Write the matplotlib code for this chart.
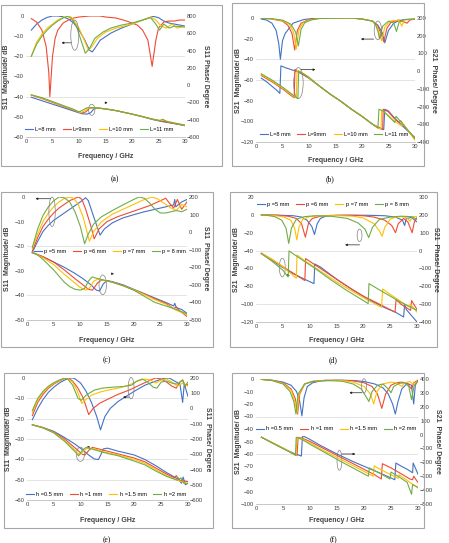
import numpy as np
import matplotlib
matplotlib.use('Agg')
import matplotlib.pyplot as plt
from matplotlib.patches import Ellipse, Rectangle

plt.rcParams['font.family'] = ['Liberation Sans', 'DejaVu Sans']

# ---------------- data ----------------
# (a) S11 vs L
a_names = ['L=8 mm', 'L=9mm', 'L=10 mm', 'L=11 mm']
a_mag_L8_x = [1, 2, 3, 4, 5, 6, 7, 8, 9, 10, 11, 12, 12.5, 13, 14, 16, 18, 20, 22, 24, 25, 26, 27, 28, 29, 30]
a_mag_L8_y = [-7, -4, -2, -0.7, 0, 0, -0.4, -1.5, -3.5, -7, -11.5, -17, -17.8, -16, -12, -8.5, -6, -4, -2, -0.2, -0.8, -2.5, -3.5, -4, -4.5, -5]
a_mag_L9_x = [1, 2, 3, 3.8, 4.3, 4.5, 5, 5.5, 6, 7, 8, 9, 10, 12, 14, 15, 17, 19, 21, 22, 23, 23.8, 24.5, 25, 26, 27, 28, 29, 30]
a_mag_L9_y = [-1.3, -3, -7, -15, -28, -40, -20, -11, -7, -3.5, -2, -1, -0.5, 0, 0, -0.5, -1, -2.5, -4.5, -7, -12, -25, -12, -6, -3, -2.5, -2.5, -2, -2]
a_mag_L10_x = [1, 2, 3, 4, 5, 6, 7, 8, 8.5, 9, 10, 11, 11.8, 12.5, 13.5, 15, 17, 20, 22, 23.5, 24.5, 25.5, 26.5, 27.5, 28.5, 30]
a_mag_L10_y = [-20, -13, -9, -6, -4, -2, -0.7, 0, -0.5, -2, -6, -12, -17, -15, -11, -8, -6, -4, -2, -0.5, -2, -5, -6, -4, -6, -5]
a_mag_L11_x = [1, 2, 3, 4, 5, 6, 7, 7.8, 8.5, 9.5, 10.5, 11.2, 12, 13, 14.5, 16, 18, 20, 22, 23.5, 24.5, 25.2, 26, 27, 28, 30]
a_mag_L11_y = [-20, -14, -10, -7, -4.5, -2.5, -1, -0.2, -1, -5, -13, -18.5, -16, -11, -8, -6, -4.5, -3.5, -2, -0.8, -4, -7, -4, -6, -5, -5.5]
a_ph_L8_x = [1, 3, 5, 7, 9, 10.5, 11.5, 12.2, 12.8, 13.5, 15, 17, 20, 22, 24, 26, 28, 30]
a_ph_L8_y = [-140, -180, -220, -260, -300, -330, -335, -320, -275, -265, -275, -295, -335, -365, -400, -425, -445, -470]
a_ph_L9_x = [1, 3, 5, 7, 9, 10.5, 11.3, 12, 13, 15, 17, 20, 22, 24, 26, 28, 30]
a_ph_L9_y = [-115, -155, -200, -245, -290, -320, -310, -265, -260, -275, -295, -335, -365, -395, -420, -445, -465]
a_ph_L10_x = [1, 3, 5, 7, 9, 10.3, 11, 11.8, 13, 15, 17, 20, 22, 24, 25.5, 26, 27, 30]
a_ph_L10_y = [-113, -150, -195, -240, -285, -320, -300, -265, -262, -275, -295, -335, -365, -395, -410, -405, -425, -465]
a_ph_L11_x = [1, 3, 5, 7, 9, 10, 10.8, 11.5, 13, 15, 17, 20, 22, 24, 25.2, 25.8, 26.5, 30]
a_ph_L11_y = [-113, -145, -190, -235, -280, -310, -285, -262, -262, -275, -295, -335, -365, -395, -410, -395, -420, -462]

# (b) S21 vs L
b_names = ['L=8 mm', 'L=9mm', 'L=10 mm', 'L=11 mm']
b_mag_L8_x = [1, 2, 3, 3.8, 4.3, 4.6, 5, 5.5, 7, 9, 11, 12, 18, 20, 22, 23, 23.8, 24.3, 25, 26, 27, 28, 30]
b_mag_L8_y = [-1, -2, -5, -12, -25, -40, -22, -15, -5, -1.5, -0.3, 0, 0, -1, -3, -7, -14, -24, -12, -5, -2.5, -1.5, -1]
b_mag_L9_x = [1, 3, 5, 6, 6.8, 7.3, 7.8, 8.5, 10, 12, 18, 20, 22, 23, 23.6, 24.1, 24.7, 25.5, 27, 28.5, 29, 30]
b_mag_L9_y = [-0.2, -1, -3, -7, -15, -31, -12, -5, -1.5, -0.3, 0, -1, -3, -8, -15, -23, -10, -4, -2, -5, -2, -1]
b_mag_L10_x = [1, 3, 5, 6.3, 7.1, 7.6, 8.1, 8.8, 10, 12, 18, 20, 22, 22.8, 23.3, 23.7, 24.3, 25.3, 27, 27.5, 28, 30]
b_mag_L10_y = [-0.2, -0.8, -2.5, -6, -14, -30, -12, -5, -2, -0.4, 0, -1, -3, -8, -15, -22, -9, -3, -2, -8, -2, -1]
b_mag_L11_x = [1, 3, 5, 6.6, 7.5, 8.0, 8.5, 9.2, 10.5, 12, 18, 20, 22, 22.6, 23.0, 23.3, 23.9, 25, 26, 26.5, 27, 28, 30]
b_mag_L11_y = [-0.2, -0.7, -2, -6, -14, -27, -11, -4.5, -1.8, -0.5, 0, -1, -3, -7, -13, -20, -8, -3, -5, -13, -4, -1.5, -1]
b_ph_L8_x = [1, 2, 3, 4, 4.5, 4.7, 5.5, 7, 8, 9, 10, 12, 14, 16, 18, 20, 22, 23.5, 24.1, 24.3, 25, 26, 28, 30]
b_ph_L8_y = [-40, -60, -85, -110, -126, 30, 20, 5, -5, -22, -40, -85, -130, -170, -215, -255, -300, -325, -330, -215, -225, -260, -320, -375]
b_ph_L9_x = [1, 3, 5, 6.5, 7.2, 7.35, 8, 9, 10, 12, 14, 16, 18, 20, 22, 23.5, 23.9, 24.0, 25, 26, 27, 27.3, 28, 30]
b_ph_L9_y = [-25, -60, -100, -135, -150, 10, 0, -20, -40, -85, -130, -170, -215, -255, -300, -322, -330, -215, -230, -265, -290, -280, -310, -385]
b_ph_L10_x = [1, 3, 5, 7, 7.6, 7.75, 8.5, 9.5, 10, 12, 14, 16, 18, 20, 22, 23.3, 23.6, 23.7, 25, 26, 27.5, 27.6, 30]
b_ph_L10_y = [-20, -55, -95, -140, -152, 5, -5, -25, -38, -85, -130, -170, -215, -255, -300, -325, -325, -220, -250, -280, -310, -290, -390]
b_ph_L11_x = [1, 3, 5, 7, 7.9, 8.05, 9, 10, 12, 14, 16, 18, 20, 22, 23.0, 23.2, 24, 25, 26.2, 26.4, 27, 30]
b_ph_L11_y = [-15, -50, -90, -135, -155, 0, -15, -35, -85, -130, -170, -215, -255, -300, -322, -215, -225, -255, -290, -255, -275, -380]

# (c) S11 vs p
c_names = ['p =5 mm', 'p =6 mm', 'p =7 mm', 'p = 8 mm']
c_mag_p5_x = [1, 2, 3, 4, 5, 6, 7, 8, 9, 10, 11, 11.5, 12.5, 13.7, 14.5, 16, 18, 20, 22, 24, 26, 27.5, 27.7, 27.9, 29, 30]
c_mag_p5_y = [-22.5, -18, -14, -11.5, -9.5, -8, -6.5, -5, -3.5, -2, -0.3, -1.5, -8, -15.5, -13, -10.5, -8.5, -7.2, -6, -5, -4, -3.2, -1, -4, -2, -1]
c_mag_p6_x = [1, 2, 3, 4, 5, 6, 7, 8, 9, 9.7, 10.3, 11, 12, 12.6, 13.5, 15, 17, 19, 21, 23, 25, 26, 26.7, 27.5, 28.2, 29, 30]
c_mag_p6_y = [-22, -16.5, -12, -9, -6.5, -4.5, -3, -1.5, -0.5, 0, -1, -5, -12, -17, -13, -10, -8, -6.5, -5, -3.5, -1.5, -0.5, -2.5, -4.5, -1, -5, -2]
c_mag_p7_x = [1, 2, 3, 4, 5, 6, 7, 8, 8.7, 9.5, 10.5, 11.7, 12.5, 14, 16, 18, 20, 22, 23.5, 24.5, 26, 27, 28, 29, 30]
c_mag_p7_y = [-21, -15, -10, -6.5, -4, -2, -0.6, 0, -0.5, -2.5, -8, -18, -14, -10, -7, -5, -3, -1, 0, -0.8, -3, -4.5, -5.5, -3, -4]
c_mag_p8_x = [1, 2, 3, 4, 5, 6, 7, 8, 9, 10, 10.8, 11.5, 12.5, 14, 16, 18, 20, 21, 22, 23, 24, 25, 26, 27, 28, 29, 30]
c_mag_p8_y = [-20.5, -13, -7.5, -4, -1.5, 0, -0.3, -2, -6, -12, -19, -15, -11, -8, -5.5, -3.2, -1, 0, -0.5, -2.5, -5, -6.5, -6.5, -6, -5.5, -6, -5]
c_ph_p5_x = [1, 3, 5, 7, 9, 10.5, 12, 13, 13.6, 14.3, 15, 16, 18, 20, 22, 24, 26, 27.5, 27.7, 28, 29, 30]
c_ph_p5_y = [-118, -140, -170, -200, -235, -265, -300, -330, -335, -295, -275, -282, -300, -325, -350, -375, -400, -420, -405, -430, -440, -462]
c_ph_p6_x = [1, 3, 5, 7, 9, 10.5, 11.5, 12.3, 13.2, 14, 16, 18, 20, 22, 24, 26, 27.5, 28, 28.5, 30]
c_ph_p6_y = [-115, -140, -170, -215, -265, -300, -325, -330, -290, -272, -283, -303, -328, -352, -380, -405, -435, -425, -445, -480]
c_ph_p7_x = [1, 3, 5, 7, 9, 10, 11, 11.7, 12.5, 13.2, 14, 16, 18, 20, 22, 24, 26, 28, 30]
c_ph_p7_y = [-115, -145, -185, -240, -290, -315, -330, -320, -280, -268, -272, -285, -305, -328, -355, -385, -410, -445, -470]
c_ph_p8_x = [1, 2, 3, 4, 5, 6, 7, 8, 9, 10, 10.8, 11.5, 12.2, 13, 14, 16, 18, 20, 22, 24, 26, 28, 30]
c_ph_p8_y = [-115, -130, -155, -185, -215, -250, -285, -310, -325, -330, -320, -280, -255, -262, -270, -285, -305, -330, -365, -400, -420, -440, -465]

# (d) S21 vs p
d_names = ['p =5 mm', 'p =6 mm', 'p =7 mm', 'p = 8 mm']
d_mag_p5_x = [1, 4, 7, 8.5, 9.5, 10.4, 10.9, 11.4, 12, 13, 15, 18, 21, 24, 26, 27.3, 27.7, 28, 29, 30]
d_mag_p5_y = [0, -0.3, -1, -2.5, -6, -13, -22, -10, -4, -1.5, -0.5, -0.3, -0.5, -1, -2.5, -6, -12, -4, -3, -8]
d_mag_p6_x = [1, 4, 6, 7.5, 8.5, 9.2, 9.8, 10.5, 12, 14, 17, 20, 22, 24, 25.3, 26, 26.5, 27.5, 28.3, 29.1, 29.5, 30]
d_mag_p6_y = [0, -0.5, -1.5, -4, -10, -25, -9, -4, -1.5, -0.6, -0.5, -1, -2.5, -6, -12, -20, -10, -4, -8, -20, -8, -3]
d_mag_p7_x = [1, 3, 5, 6.5, 7.2, 7.6, 8, 8.7, 10, 12, 15, 18, 20, 22, 23, 23.5, 24, 25, 26, 27, 28, 28.7, 29.2, 30]
d_mag_p7_y = [0, -0.5, -2, -6, -15, -28, -14, -5, -2, -1, -0.8, -1.5, -3.5, -10, -18, -24, -14, -5, -2.5, -2, -3, -7, -2, -2]
d_mag_p8_x = [1, 2, 3.5, 4.8, 5.6, 6.1, 6.6, 7.5, 9, 11, 14, 17, 19, 20.3, 21, 21.7, 23, 25, 27, 29, 30]
d_mag_p8_y = [0, -0.5, -2, -6, -15, -32, -15, -5, -2, -1, -1.5, -4, -9, -16, -25.5, -14, -5, -2.5, -1.5, -2, -5]
d_ph_p5_x = [1, 3, 5, 7, 9, 10.8, 10.95, 12, 15, 18, 21, 24, 26, 27.5, 27.7, 28, 30]
d_ph_p5_y = [-17, -55, -95, -130, -160, -185, -75, -92, -160, -220, -275, -320, -345, -372, -300, -330, -400]
d_ph_p6_x = [1, 3, 5, 7, 9.1, 9.25, 11, 14, 17, 20, 23, 25.9, 26.1, 27, 28.8, 29, 30]
d_ph_p6_y = [-15, -50, -90, -128, -168, -45, -80, -140, -200, -255, -300, -345, -275, -300, -335, -280, -330]
d_ph_p7_x = [1, 3, 5, 7.5, 7.65, 9, 12, 15, 18, 21, 23.4, 23.6, 25, 27, 28.5, 28.8, 30]
d_ph_p7_y = [-15, -50, -90, -155, -25, -55, -115, -175, -230, -280, -318, -215, -245, -285, -315, -300, -345]
d_ph_p8_x = [1, 3, 5, 6.0, 6.15, 8, 11, 14, 17, 20, 20.9, 21.05, 23, 25, 27, 29, 30]
d_ph_p8_y = [-17, -60, -110, -148, -2, -40, -100, -165, -225, -280, -297, -185, -220, -255, -290, -320, -335]

# (e) S11 vs h
e_names = ['h =0.5 mm', 'h =1 mm', 'h =1.5 mm', 'h =2 mm']
e_mag_h05_x = [1, 2, 3, 4, 5, 6, 7, 8, 8.5, 9, 10, 11, 12, 13, 13.7, 14.5, 15.5, 17, 18.5, 20, 22, 24, 25.5, 26.5, 27.5, 28.5, 29, 29.3, 30]
e_mag_h05_y = [-20.5, -15, -10.5, -7, -4.5, -2.5, -1, 0, 0, -0.5, -2.5, -6.5, -12, -19, -25.5, -19, -15, -11.5, -9, -6.5, -3.5, -1.5, -0.2, 0, -1.5, -3, -12, -3, -9]
e_mag_h1_x = [1, 2, 3, 4, 5, 6, 7, 7.7, 8.5, 9.5, 10.5, 11.5, 12.3, 13.5, 15, 17, 19, 21, 23, 24, 25, 26, 27, 27.8, 28.5, 29, 29.5, 30]
e_mag_h1_y = [-18.5, -12, -8, -5, -3, -1.5, -0.3, 0, -1.5, -5, -10, -18, -15, -12.5, -10.5, -8, -6, -3.5, -1, 0, -0.5, -2, -4, -5, -2, -1, -4, -3]
e_mag_h15_x = [1, 2, 3, 4, 5, 6, 7, 7.5, 8.5, 9.3, 10.2, 11, 12, 13.5, 15, 17, 19, 20.5, 22, 23, 24, 25, 26, 27, 28, 29, 30]
e_mag_h15_y = [-17, -11, -7, -4.5, -2.7, -1.3, -0.2, 0, -2, -6, -12.5, -10.5, -8.5, -7, -6, -5, -3.5, -1.5, -0.5, -1, -2.5, -1, -0.5, -2, -4, -2.5, -4]
e_mag_h2_x = [1, 2, 3, 4, 5, 6, 7, 7.6, 8.5, 9.5, 10.1, 11, 12.5, 14, 16, 18, 19.5, 20.5, 21.5, 22.5, 23.5, 24.2, 25, 26, 27, 28, 29, 29.4, 30]
e_mag_h2_y = [-16, -10, -6.5, -4, -2.3, -1, 0, -0.5, -3.5, -10, -11, -8.5, -6, -5, -4.5, -4.2, -3.5, -1.5, -0.5, -2, -4.5, -5, -2, -1.5, -2.5, -3, -1, -4, -2]
e_ph_h05_x = [1, 3, 5, 7, 9, 10.5, 11.5, 12.5, 13.3, 13.8, 14.2, 15, 17, 20, 22, 24, 26, 28, 28.8, 29.1, 29.5, 30]
e_ph_h05_y = [-107, -125, -150, -190, -235, -275, -305, -330, -335, -300, -265, -260, -280, -305, -335, -375, -420, -460, -490, -450, -500, -490]
e_ph_h1_x = [1, 3, 5, 7, 9, 10.3, 10.8, 11.5, 12.2, 13, 15, 17, 20, 22, 24, 26, 27.5, 27.8, 28.5, 30]
e_ph_h1_y = [-107, -125, -155, -200, -260, -300, -305, -275, -255, -262, -280, -298, -325, -350, -390, -430, -455, -440, -470, -480]
e_ph_h15_x = [1, 3, 5, 7, 9, 9.8, 10.5, 11.3, 12.5, 15, 17, 20, 22, 24, 26, 28, 30]
e_ph_h15_y = [-107, -127, -158, -210, -275, -305, -280, -258, -265, -290, -305, -335, -360, -400, -440, -470, -495]
e_ph_h2_x = [1, 3, 5, 7, 9, 9.6, 10.3, 11, 12.5, 15, 17, 20, 22, 24, 26, 28, 28.7, 29.2, 30]
e_ph_h2_y = [-107, -128, -160, -215, -285, -310, -275, -255, -270, -295, -310, -345, -370, -410, -445, -470, -455, -490, -490]

# (f) S21 vs h
f_names = ['h =0.5 mm', 'h =1 mm', 'h =1.5 mm', 'h =2 mm']
f_mag_h05_x = [1, 3, 5, 6.5, 7.5, 8.1, 8.5, 8.9, 9.5, 10.5, 12, 15, 18, 20, 22, 23.5, 24.5, 25.3, 25.8, 26.3, 27, 28, 28.8, 29.2, 29.5, 30]
f_mag_h05_y = [-0.3, -1, -2.5, -5, -10, -18, -29.5, -15, -6, -3, -1.5, -1, -1.2, -2, -4, -7, -12, -20, -28, -18, -8, -3.5, -5, -20, -5, -1]
f_mag_h1_x = [1, 3, 5, 6.5, 7.3, 7.7, 8.1, 9, 10.5, 13, 16, 18, 20, 21.5, 22.5, 23.3, 24, 25, 26, 27, 28, 28.8, 29.2, 30]
f_mag_h1_y = [-0.3, -1, -3, -8, -16, -28, -12, -4, -1.8, -1, -1, -1.5, -3, -6, -12, -23.5, -12, -5, -3, -2.5, -3.5, -8, -3, -1]
f_mag_h15_x = [1, 3, 5, 6.5, 7.2, 7.6, 8, 9, 10.5, 13, 16, 18, 20, 21.2, 21.8, 22.4, 23.5, 25, 26, 27, 27.5, 28.5, 29, 30]
f_mag_h15_y = [-0.3, -1.2, -3.5, -9, -18, -27, -12, -4, -2, -1, -1.2, -2.5, -6, -12, -20, -10, -4, -2.5, -3, -6, -3, -2, -4, -2]
f_mag_h2_x = [1, 3, 5, 6.3, 7.0, 7.4, 7.8, 9, 10.5, 13, 16, 18, 19.5, 20.5, 20.9, 21.5, 22.5, 23.5, 24.5, 25, 25.5, 26.5, 27.5, 28.3, 28.8, 29.3, 30]
f_mag_h2_y = [-0.3, -1.3, -4, -10, -18, -28, -12, -4, -2, -1.2, -1.8, -4, -8, -15, -18, -10, -5, -4, -8, -11, -6, -3.5, -3, -6, -16.5, -5, -2]
f_ph_h05_x = [1, 3, 5, 7, 8.4, 8.6, 9, 10, 12, 15, 18, 21, 24, 25.7, 25.9, 27, 28, 29, 29.1, 29.5, 30]
f_ph_h05_y = [-19, -60, -100, -135, -155, -15, -15, -35, -80, -140, -195, -245, -295, -325, -205, -230, -250, -275, -205, -240, -285]
f_ph_h1_x = [1, 3, 5, 7, 7.6, 7.8, 8.5, 10, 13, 16, 19, 22, 23.2, 23.4, 25, 27, 28.5, 29, 29.2, 30]
f_ph_h1_y = [-19, -58, -98, -140, -150, -20, -25, -50, -110, -170, -230, -290, -320, -210, -240, -285, -320, -325, -300, -345]
f_ph_h15_x = [1, 3, 5, 7, 7.4, 7.6, 8.5, 10, 13, 16, 19, 21.7, 21.9, 23, 25, 26.3, 26.5, 28, 30]
f_ph_h15_y = [-19, -58, -97, -140, -150, -20, -30, -60, -125, -185, -245, -300, -225, -250, -290, -315, -290, -330, -385]
f_ph_h2_x = [1, 3, 5, 7, 7.3, 7.45, 8.5, 10, 13, 16, 19, 20.8, 21, 23, 24.8, 25, 26.5, 28, 28.8, 29, 30]
f_ph_h2_y = [-19, -60, -100, -142, -150, -20, -35, -70, -135, -200, -262, -300, -240, -280, -320, -270, -305, -345, -430, -360, -380]

colors = ['#4472C4', '#EE4B35', '#FFC000', '#70AD47']

W, H = 449, 543
fig = plt.figure(figsize=(W / 100, H / 100), dpi=100)


def fx(px):
    return px / W


def fy(py):
    return 1 - py / H


def make_panel(box, area, ylim, yticks, ylim2, yticks2, grid, mags, phases, names,
               leg_y, leg_x, lab_l, lab_r, ylab_x, yr_x, xlab_y, cap, cap_x, cap_y):
    # grey frame around the whole chart
    bl, bt, br, bb = box
    fig.patches.append(Rectangle((fx(bl), fy(bb)), fx(br - bl), (bb - bt) / H,
                                 transform=fig.transFigure, fill=False,
                                 ec='#A6A6A6', lw=0.8))
    l, t, r, b = area
    ax = fig.add_axes([fx(l), fy(b), fx(r - l), (b - t) / H])
    ax2 = ax.twinx()
    for a in (ax, ax2):
        for s in a.spines.values():
            s.set_visible(False)
        a.tick_params(length=0, labelsize=4.2, pad=1.5, colors='#404040')
    ax.spines['bottom'].set_visible(True)
    ax.spines['bottom'].set_color('#BFBFBF')
    ax.spines['bottom'].set_linewidth(0.6)
    ax.set_xlim(0, 30)
    ax.set_xticks(range(0, 31, 5))
    ax.set_ylim(*ylim)
    ax.set_yticks(yticks)
    ax2.set_ylim(*ylim2)
    ax2.set_yticks(yticks2)
    for g in grid:
        ax.axhline(g, color='#D9D9D9', lw=0.5, zorder=0)
    hs = []
    for (x, y), c in zip(mags, colors):
        h, = ax.plot(x, y, color=c, lw=0.8)
        hs.append(h)
    for (x, y), c in zip(phases, colors):
        ax2.plot(x, y, color=c, lw=0.8)
    ax2.legend(hs, names, loc='center', bbox_to_anchor=(leg_x, leg_y), ncol=4,
               frameon=False, fontsize=4.1, handlelength=1.4, handletextpad=0.4,
               columnspacing=1.2, borderaxespad=0)
    cy = (t + b) / 2
    fig.text(fx(ylab_x), fy(cy), lab_l, rotation=90, ha='center', va='center',
             fontsize=5, fontweight='bold', color='#404040')
    fig.text(fx(yr_x), fy(cy), lab_r, rotation=270, ha='center', va='center',
             fontsize=5, fontweight='bold', color='#404040')
    fig.text(fx((l + r) / 2), fy(xlab_y), 'Frequency / GHz', ha='center', va='center',
             fontsize=5, fontweight='bold', color='#404040')
    fig.text(fx(cap_x), fy(cap_y), cap, ha='center', va='center', fontsize=5.5,
             family='Liberation Serif')
    return ax


def oval(ax, cx, cy, w, h):
    ax.add_patch(Ellipse((cx, cy), w, h, fill=False, ec='#808080', lw=0.5,
                         zorder=5, clip_on=False))


def arrow(ax, x0, y0, x1, y1):
    ax.annotate('', xy=(x1, y1), xytext=(x0, y0), zorder=6,
                arrowprops=dict(arrowstyle='-|>', color='#202020', lw=0.5,
                                mutation_scale=3, shrinkA=0, shrinkB=0))


# (a)
ax = make_panel((1, 5, 222, 166), (26, 16, 185, 137), (-60, 0), range(-60, 1, 10),
                (-600, 800), range(-600, 801, 200), [-20, -40],
                [(a_mag_L8_x, a_mag_L8_y), (a_mag_L9_x, a_mag_L9_y),
                 (a_mag_L10_x, a_mag_L10_y), (a_mag_L11_x, a_mag_L11_y)],
                [(a_ph_L8_x, a_ph_L8_y), (a_ph_L9_x, a_ph_L9_y),
                 (a_ph_L10_x, a_ph_L10_y), (a_ph_L11_x, a_ph_L11_y)],
                a_names, 0.06, 0.46, 'S11  Magnitude/ dB', 'S11 Phase/ Degree',
                7, 205, 157, '(a)', 115, 179)
oval(ax, 9.2, -9.5, 1.5, 15)
arrow(ax, 8.5, -13.3, 6.7, -13.3)
oval(ax, 12.4, -46.5, 1.2, 5.5)
arrow(ax, 15.0, -43, 15.4, -43)

# (b)
ax = make_panel((232, 3, 424, 166), (256, 18, 415, 142), (-120, 0), range(-120, 1, 20),
                (-400, 300), range(-400, 301, 100), [-40, -60],
                [(b_mag_L8_x, b_mag_L8_y), (b_mag_L9_x, b_mag_L9_y),
                 (b_mag_L10_x, b_mag_L10_y), (b_mag_L11_x, b_mag_L11_y)],
                [(b_ph_L8_x, b_ph_L8_y), (b_ph_L9_x, b_ph_L9_y),
                 (b_ph_L10_x, b_ph_L10_y), (b_ph_L11_x, b_ph_L11_y)],
                b_names, 0.0625, 0.49, 'S21  Magnitude/ dB', 'S21  Phase/ Degree',
                238, 434, 160, '(b)', 330, 179)
oval(ax, 8.0, -63, 1.8, 30)
arrow(ax, 8.5, -50, 11.2, -50)
oval(ax, 23.0, -12, 1.4, 18)
arrow(ax, 22.2, -20.4, 19.8, -20.4)

# (c)
ax = make_panel((1, 192, 213, 347), (27, 197, 187, 320), (-50, 0), range(-50, 1, 10),
                (-500, 200), range(-500, 201, 100), [-20, -40],
                [(c_mag_p5_x, c_mag_p5_y), (c_mag_p6_x, c_mag_p6_y),
                 (c_mag_p7_x, c_mag_p7_y), (c_mag_p8_x, c_mag_p8_y)],
                [(c_ph_p5_x, c_ph_p5_y), (c_ph_p6_x, c_ph_p6_y),
                 (c_ph_p7_x, c_ph_p7_y), (c_ph_p8_x, c_ph_p8_y)],
                c_names, 0.558, 0.52, 'S11  Magnitude/ dB', 'S11  Phase/ Degree',
                8, 206, 340, '(c)', 107, 360)
oval(ax, 4.7, -6, 1.2, 12)
arrow(ax, 4.4, -0.7, 1.6, -0.7)
oval(ax, 14.2, -35.7, 1.4, 8)
arrow(ax, 16.0, -31.2, 16.3, -31.2)

# (d)
ax = make_panel((230, 192, 437, 347), (256, 197, 417, 322), (-120, 20), range(-120, 21, 20),
                (-400, 300), range(-400, 301, 100), [-40, -100],
                [(d_mag_p5_x, d_mag_p5_y), (d_mag_p6_x, d_mag_p6_y),
                 (d_mag_p7_x, d_mag_p7_y), (d_mag_p8_x, d_mag_p8_y)],
                [(d_ph_p5_x, d_ph_p5_y), (d_ph_p6_x, d_ph_p6_y),
                 (d_ph_p7_x, d_ph_p7_y), (d_ph_p8_x, d_ph_p8_y)],
                d_names, 0.94, 0.477, 'S21  Magnitude/ dB', 'S21  Phase/ Degree',
                237, 435, 340, '(d)', 333, 360)
oval(ax, 4.9, -59, 1.1, 21)
arrow(ax, 5.7, -67.7, 6.3, -67.7)
oval(ax, 19.3, -23, 0.9, 14)
arrow(ax, 19.3, -33.6, 16.6, -33.6)

# (e)
ax = make_panel((4, 373, 213, 528), (27, 378, 188, 500), (-60, 0), range(-60, 1, 10),
                (-600, 200), range(-600, 201, 100), [-10, -20, -30, -40, -50],
                [(e_mag_h05_x, e_mag_h05_y), (e_mag_h1_x, e_mag_h1_y),
                 (e_mag_h15_x, e_mag_h15_y), (e_mag_h2_x, e_mag_h2_y)],
                [(e_ph_h05_x, e_ph_h05_y), (e_ph_h1_x, e_ph_h1_y),
                 (e_ph_h15_x, e_ph_h15_y), (e_ph_h2_x, e_ph_h2_y)],
                e_names, 0.042, 0.49, 'S11  Magnitude/ dB', 'S11  Phase/ Degree',
                9, 208, 520, '(e)', 107, 540)
oval(ax, 19.4, -5, 1.1, 10.5)
arrow(ax, 19.0, -9.4, 17.9, -9.4)
oval(ax, 9.95, -37.5, 1.5, 7)
arrow(ax, 11.4, -34, 11.8, -34)

# (f)
ax = make_panel((232, 373, 424, 528), (256, 379, 418, 504), (-100, 0), range(-100, 1, 10),
                (-500, 400), range(-500, 401, 100), [-30, -60],
                [(f_mag_h05_x, f_mag_h05_y), (f_mag_h1_x, f_mag_h1_y),
                 (f_mag_h15_x, f_mag_h15_y), (f_mag_h2_x, f_mag_h2_y)],
                [(f_ph_h05_x, f_ph_h05_y), (f_ph_h1_x, f_ph_h1_y),
                 (f_ph_h15_x, f_ph_h15_y), (f_ph_h2_x, f_ph_h2_y)],
                f_names, 0.6, 0.495, 'S21  Magnitude/ dB', 'S21  Phase/ Degree',
                238, 438, 520, '(f)', 333, 540)
oval(ax, 15.45, -65, 0.9, 16)
arrow(ax, 15.9, -60, 18.4, -60)
oval(ax, 20.0, -5.5, 0.9, 11.5)
arrow(ax, 19.6, -11, 17.3, -11)

fig.savefig('out.png', dpi=100)
